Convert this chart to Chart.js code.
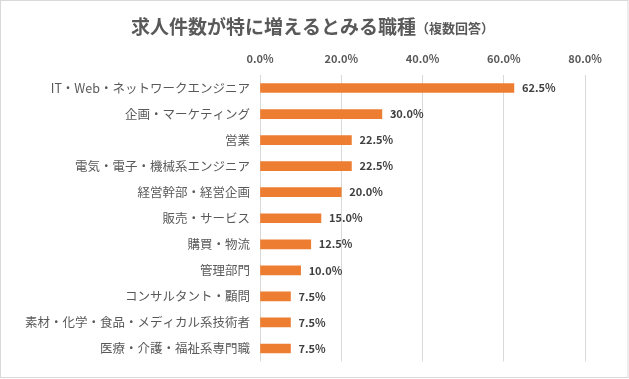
<!DOCTYPE html>
<html>
<head>
<meta charset="utf-8">
<script src="https://cdn.jsdelivr.net/npm/chart.js@4/dist/chart.umd.min.js"></script>
<style>
html,body{margin:0;padding:0;background:#fff;}
#wrap{position:relative;width:629px;height:379px;}
</style>
</head>
<body>
<div id="wrap"><canvas id="c" width="629" height="379"></canvas></div>
<script>
const titleMain = '求人件数が特に増えるとみる職種';
const titleSub = '（複数回答）';
const categories = [
  'IT・Web・ネットワークエンジニア',
  '企画・マーケティング',
  '営業',
  '電気・電子・機械系エンジニア',
  '経営幹部・経営企画',
  '販売・サービス',
  '購買・物流',
  '管理部門',
  'コンサルタント・顧問',
  '素材・化学・食品・メディカル系技術者',
  '医療・介護・福祉系専門職'
];
const values = [62.5, 30.0, 22.5, 22.5, 20.0, 15.0, 12.5, 10.0, 7.5, 7.5, 7.5];
const tickValues = [0, 20, 40, 60, 80];

const FONT = "'Noto Sans CJK JP', 'Noto Sans', sans-serif";

const framePlugin = {
  id: 'frame',
  beforeDraw(chart) {
    const ctx = chart.ctx;
    ctx.save();
    ctx.fillStyle = '#ffffff';
    ctx.fillRect(0, 0, chart.width, chart.height);
    ctx.strokeStyle = '#d9d9d9';
    ctx.lineWidth = 1;
    ctx.strokeRect(0.5, 0.5, chart.width - 1.5, chart.height - 2);
    ctx.restore();
  },
  afterDraw(chart) {
    const ctx = chart.ctx;
    ctx.save();
    ctx.textBaseline = 'middle';
    ctx.fillStyle = '#595959';
    ctx.font = 'bold 19px ' + FONT;
    const w1 = ctx.measureText(titleMain).width;
    ctx.font = 'bold 13px ' + FONT;
    const w2 = ctx.measureText(titleSub).width;
    let x = (chart.width - (w1 + w2)) / 2 - 2;
    ctx.font = 'bold 19px ' + FONT;
    ctx.textAlign = 'left';
    ctx.fillText(titleMain, x, 27);
    ctx.font = 'bold 13px ' + FONT;
    ctx.fillText(titleSub, x + w1, 28);
    // value labels
    const meta = chart.getDatasetMeta(0);
    ctx.font = 'bold 11px ' + FONT;
    ctx.fillStyle = '#404040';
    meta.data.forEach((bar, i) => {
      ctx.fillText(values[i].toFixed(1) + '%', bar.x + 8, bar.y);
    });
    ctx.restore();
  }
};

new Chart(document.getElementById('c'), {
  type: 'bar',
  data: {
    labels: categories,
    datasets: [{
      data: values,
      backgroundColor: '#ED7D31',
      borderWidth: 0,
      barThickness: 9
    }]
  },
  plugins: [framePlugin],
  options: {
    indexAxis: 'y',
    responsive: false,
    animation: false,
    events: [],
    layout: { padding: { left: 0, right: 44, top: 0, bottom: 14 } },
    plugins: {
      legend: { display: false },
      tooltip: { enabled: false },
      title: { display: false }
    },
    scales: {
      x: {
        position: 'top',
        min: 0,
        max: 80,
        afterBuildTicks(scale) { scale.ticks = tickValues.map(v => ({ value: v })); },
        afterFit(scale) { scale.height = 75; },
        grid: { color: '#d9d9d9', drawTicks: false, lineWidth: 1 },
        border: { display: false },
        ticks: {
          padding: 10,
          color: '#595959',
          font: { family: FONT, size: 11, weight: 'bold' },
          callback: v => Number(v).toFixed(1) + '%'
        }
      },
      y: {
        afterFit(scale) { scale.width = 260; },
        grid: { display: false, drawTicks: false },
        border: { display: false },
        ticks: {
          padding: 10,
          color: '#595959',
          font: { family: FONT, size: 12.5 },
          autoSkip: false
        }
      }
    }
  }
});
</script>
</body>
</html>
